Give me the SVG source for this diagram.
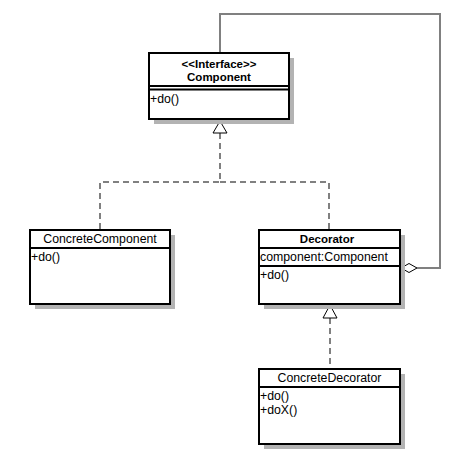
<svg xmlns="http://www.w3.org/2000/svg" width="464" height="465" viewBox="0 0 464 465">
<defs>
<style>
.shadow{fill:#b3b3b3;stroke:none}
.box{fill:#fff;stroke:#000;stroke-width:2}
.sep{stroke:#000;stroke-width:2;fill:none}
.t{font-family:"Liberation Sans",Arial,sans-serif;font-size:12.3px;fill:#000}
.c{text-anchor:middle}
.b{font-weight:bold;font-size:11.5px}
.dash{fill:none;stroke:#808080;stroke-width:2;stroke-dasharray:6,4}
.solid{fill:none;stroke:#808080;stroke-width:2}
.tri{fill:#fff;stroke:#000;stroke-width:1}
</style>
</defs>
<rect width="464" height="465" fill="#fff"/>
<g id="connectors">
<polyline class="dash" points="220,133 220,182 100,182 100,230"/>
<polyline class="dash" points="220,182 329,182 329,230"/>
<polygon class="tri" points="220,121 213,133 227,133"/>
<polyline class="dash" points="330,318 330,369"/>
<polygon class="tri" points="330,305 323,318 337,318"/>
<polyline class="solid" points="417,268 440,268 440,14 220,14 220,53"/>
<polygon points="401,268 409,263.5 417,268 409,272.5" fill="#fff" stroke="#000" stroke-width="1"/>
</g>
<g id="Component">
<rect class="shadow" x="154" y="58" width="140" height="66"/>
<rect class="box" x="149" y="53" width="140" height="66"/>
<line class="sep" x1="149" y1="86" x2="289" y2="86"/>
<line class="sep" x1="149" y1="89.5" x2="289" y2="89.5"/>
<text class="t c b" x="219" y="68">&lt;&lt;Interface&gt;&gt;</text>
<text class="t c b" x="219" y="81">Component</text>
<text class="t" x="150" y="103">+do()</text>
</g>
<g id="ConcreteComponent">
<rect class="shadow" x="35" y="235" width="140" height="74"/>
<rect class="box" x="30" y="230" width="140" height="74"/>
<line class="sep" x1="30" y1="248" x2="170" y2="248"/>
<text class="t c" x="100" y="243">ConcreteComponent</text>
<text class="t" x="31" y="261">+do()</text>
</g>
<g id="Decorator">
<rect class="shadow" x="264" y="235" width="141" height="74"/>
<rect class="box" x="259" y="230" width="141" height="74"/>
<line class="sep" x1="259" y1="248" x2="400" y2="248"/>
<line class="sep" x1="259" y1="266" x2="400" y2="266"/>
<text class="t c b" x="327" y="243">Decorator</text>
<text class="t" x="260" y="261">component:Component</text>
<text class="t" x="260" y="279">+do()</text>
</g>
<g id="ConcreteDecorator">
<rect class="shadow" x="264" y="374" width="141" height="75"/>
<rect class="box" x="259" y="369" width="141" height="75"/>
<line class="sep" x1="259" y1="387" x2="400" y2="387"/>
<text class="t c" x="329.5" y="382">ConcreteDecorator</text>
<text class="t" x="260" y="400">+do()</text>
<text class="t" x="260" y="414">+doX()</text>
</g>
</svg>
